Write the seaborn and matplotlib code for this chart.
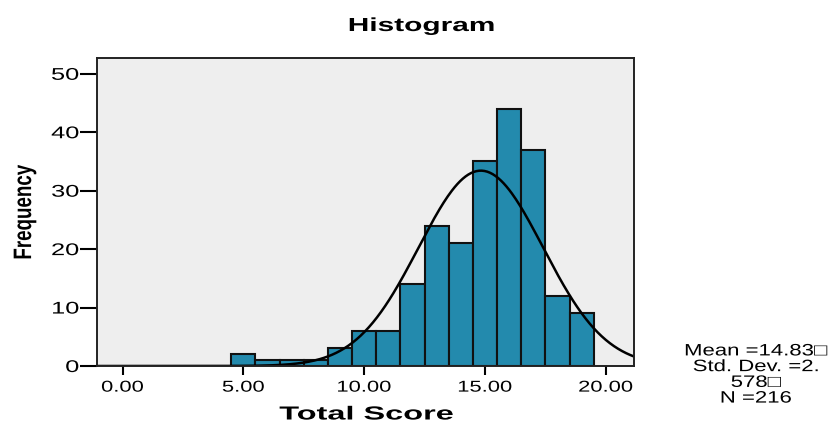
import numpy as np
import pandas as pd
import matplotlib
matplotlib.use("Agg")
import matplotlib.pyplot as plt
import seaborn as sns
from matplotlib.patheffects import AbstractPathEffect
from matplotlib.transforms import Affine2D

# Data
bin_centers = [5, 6, 7, 8, 9, 10, 11, 12, 13, 14, 15, 16, 17, 18, 19]
counts = [2, 1, 1, 1, 3, 6, 6, 14, 24, 21, 35, 44, 37, 12, 9]
x_ticks = [0, 5, 10, 15, 20]
x_tick_labels = ["0.00", "5.00", "10.00", "15.00", "20.00"]
y_ticks = [0, 10, 20, 30, 40, 50]
mean_val = 14.83
sd_val = 2.578
n_val = 216


class HStretch(AbstractPathEffect):
    """Widen glyphs horizontally (the reference renders wide text)."""
    def __init__(self, sx, anchor="center"):
        super().__init__()
        self.sx = sx
        self.anchor = anchor

    def draw_path(self, renderer, gc, tpath, affine, rgbFace=None):
        ext = tpath.get_extents(affine)
        if self.anchor == "right":
            x0 = ext.x1
        elif self.anchor == "left":
            x0 = ext.x0
        else:
            x0 = 0.5 * (ext.x0 + ext.x1)
        new = affine + Affine2D().translate(-x0, 0).scale(self.sx, 1).translate(x0, 0)
        renderer.draw_path(gc, tpath, new, rgbFace)


sns.set_theme(style="white")
plt.rcParams['font.family'] = ['Liberation Sans', 'DejaVu Sans']
plt.rcParams['text.color'] = 'black'
plt.rcParams['axes.labelcolor'] = 'black'
plt.rcParams['xtick.color'] = 'black'
plt.rcParams['ytick.color'] = 'black'

W, H = 835, 423
fig = plt.figure(figsize=(W / 100, H / 100), dpi=100)
ax = fig.add_axes([97 / W, 1 - 366 / H, (634 - 97) / W, (366 - 58) / H])
ax.set_facecolor("#EEEEEE")

df = pd.DataFrame({"score": bin_centers, "count": counts})
sns.histplot(data=df, x="score", weights="count", binwidth=1.0, binrange=(4.5, 19.5), ax=ax,
             color="#238AAD", alpha=1.0, edgecolor="#111111", linewidth=1.5)

xs = np.linspace(-1.2, 21.3, 400)
pdf = n_val * 1.0 / (sd_val * np.sqrt(2 * np.pi)) * np.exp(-0.5 * ((xs - mean_val) / sd_val) ** 2)
sns.lineplot(x=xs, y=pdf, ax=ax, color="black", linewidth=1.8)

ax.set_xlim(-1.06, 21.17)
ax.set_ylim(0, 52.7)
ax.set_xticks(x_ticks)
ax.set_xticklabels(x_tick_labels, fontsize=11.3)
ax.set_yticks(y_ticks)
ax.set_yticklabels([str(v) for v in y_ticks], fontsize=12.2)
ax.tick_params(axis="x", direction="out", length=6.5, width=1.5, pad=3.3, bottom=True)
ax.tick_params(axis="y", direction="out", length=12, width=1.5, pad=1, left=True)
for lab in ax.get_xticklabels():
    lab.set_path_effects([HStretch(1.40, "center")])
for lab in ax.get_yticklabels():
    lab.set_path_effects([HStretch(1.50, "right")])
for s in ax.spines.values():
    s.set_color("#222222")
    s.set_linewidth(1.4)

ax.set_xlabel("")
ax.set_ylabel("")

fig.text(366.5 / W, 1 - 419.5 / H, "Total Score", ha="center", va="baseline",
         fontsize=13.6, fontweight="bold", path_effects=[HStretch(1.72)])
fig.text(25 / W, 1 - 212.5 / H, "Frequency", ha="center", va="center", rotation=90,
         fontsize=13.5, fontweight="bold", path_effects=[HStretch(1.35)])
fig.text(421.5 / W, 1 - 31 / H, "Histogram", ha="center", va="baseline",
         fontsize=13.6, fontweight="bold", path_effects=[HStretch(1.58)])

fig.text(756 / W, 1 - 374.5 / H, "Mean =14.83\u25a1\nStd. Dev. =2.\n578\u25a1\nN =216",
         ha="center", va="center", fontsize=11.9, linespacing=1.06,
         path_effects=[HStretch(1.34)])

fig.savefig("out.png", dpi=100)
